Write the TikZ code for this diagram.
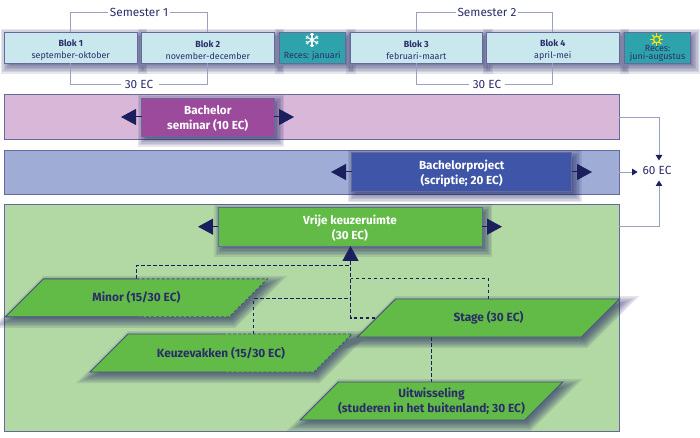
\documentclass[tikz,border=0pt]{standalone}
\usepackage{fontspec}
\setmainfont{Fira Sans}
\usetikzlibrary{arrows.meta,calc}
\definecolor{navy}{HTML}{1B1F5E}
\definecolor{edgecol}{HTML}{666A9A}
\definecolor{paraedge}{HTML}{4A5080}
\definecolor{linecol}{HTML}{9C9EC4}
\definecolor{txtnavy}{HTML}{2A2D6A}
\definecolor{ice}{HTML}{C8E8EE}
\definecolor{teal2}{HTML}{2FA3AB}
\definecolor{pinkband}{HTML}{D8B7D8}
\definecolor{seminar}{HTML}{9B4A9C}
\definecolor{blueband}{HTML}{9FADD6}
\definecolor{projcol}{HTML}{3F55A7}
\definecolor{greenband}{HTML}{B2D9A3}
\definecolor{greenbox}{HTML}{62BB46}
\newcommand{\dropB}{\rule{0pt}{12.5pt}}
\newcommand{\dropC}{\rule{0pt}{12pt}}
\pgfdeclarelayer{bandlayer}
\pgfdeclarelayer{shadowlayer}
\pgfsetlayers{bandlayer,shadowlayer,main}
\tikzset{
  softfill/.style={fill=navy,opacity=.11},
  base/.style={draw=edgecol,line width=.9pt,inner sep=0pt,outer sep=0pt,align=center},
  blok/.style={base,fill=ice,minimum height=31,text=txtnavy,font=\fontsize{8.9}{12}\selectfont},
  recesbox/.style={base,fill=teal2,minimum height=31,minimum width=66.5,text=txtnavy,font=\fontsize{8.9}{8.2}\selectfont},
  band/.style={base,minimum width=614.5},
  bigbox/.style={base,text=white,font=\fontsize{11.7}{14.8}\selectfont\bfseries},
  para/.style={inner sep=0pt,outer sep=0pt,align=center,text=txtnavy,font=\fontsize{11.9}{14.8}\selectfont\bfseries,minimum height=38},
  label/.style={inner sep=0pt,outer sep=0pt,font=\fontsize{11.8}{13}\selectfont,text=txtnavy},
  bracket/.style={draw=linecol,line width=.8pt},
  flow/.style={draw=linecol,line width=.9pt,-{Triangle[length=5.5pt,width=6.5pt,color=navy]}},
  bigarrow/.style={draw=navy,line width=1pt,-{Triangle[length=15pt,width=16pt,color=navy]}},
  dashlink/.style={draw=navy,line width=1.1pt,dash pattern=on 3.5pt off 2.5pt},
  edgedash/.style={draw=paraedge,line width=.9pt,dash pattern=on 3pt off 2pt},
  edgesolid/.style={draw=paraedge,line width=.9pt},
}
\newcommand{\slantpath}[1]{(#1.south west) -- ($(#1.north west)+(38,0)$) -- (#1.north east) -- ($(#1.south east)-(38,0)$) -- cycle}
\newcommand{\shadowbox}[1]{\begin{pgfonlayer}{shadowlayer}\foreach \gr in {7,5.5,4,2.5,1,-0.5,-2}{\path[softfill] ($(#1.south west)+(3-\gr,4+\gr)$) rectangle ($(#1.north east)+(3+\gr,4-\gr)$);}\end{pgfonlayer}}
\newcommand{\shadowpara}[1]{\begin{pgfonlayer}{shadowlayer}\foreach \gr in {7,5.5,4,2.5,1,-0.5,-2}{\path[softfill] ($(#1.south west)+(3-2.41*\gr,4+\gr)$) -- ($(#1.north west)+(41-0.41*\gr,4-\gr)$) -- ($(#1.north east)+(3+2.41*\gr,4-\gr)$) -- ($(#1.south east)+(-35+0.41*\gr,4+\gr)$) -- cycle;}\end{pgfonlayer}}
\begin{document}
\begin{tikzpicture}[x=1pt,y=-1pt]
\useasboundingbox (0,0) rectangle (700,438);
% bands
\begin{pgfonlayer}{bandlayer}
\node[band,fill=pinkband,minimum height=45] (pink) at (311.75,117) {};
\node[band,fill=blueband,minimum height=44] (blue) at (311.75,172) {};
\node[band,fill=greenband,minimum height=226.5] (green) at (311.75,317.75) {};
\end{pgfonlayer}
% top row
\node[blok,minimum width=132.5] (b1) at (70.75,47.5) {\dropB\textbf{Blok 1}\\september-oktober};
\node[blok,minimum width=132.5] (b2) at (207.75,47.5) {\dropB\textbf{Blok 2}\\november-december};
\node[recesbox] (r1) at (312.25,47.5) {\rule{0pt}{14pt}\\[1pt]Reces: januari};
\node[blok,minimum width=132.5] (b3) at (416.25,47.5) {\dropB\textbf{Blok 3}\\februari-maart};
\node[blok,minimum width=132.5] (b4) at (552.75,47.5) {\dropB\textbf{Blok 4}\\april-mei};
\node[recesbox] (r2) at (657.5,47.5) {\rule{0pt}{9pt}\\Reces:\\juni-augustus};
\shadowbox{b1}\shadowbox{b2}\shadowbox{r1}\shadowbox{b3}\shadowbox{b4}\shadowbox{r2}
% snowflake
\begin{scope}[shift={(312,40)}]
  \foreach \a in {30,90,150,210,270,330}{
    \draw[white,line width=1.1pt] (0,0) -- (\a:7);
    \draw[white,line width=.8pt] (\a:4.5) -- ++(\a+50:2.4);
    \draw[white,line width=.8pt] (\a:4.5) -- ++(\a-50:2.4);
  }
\end{scope}
% sun
\begin{scope}[shift={(656.7,39.5)}]
  \foreach \a in {0,45,...,315}{\draw[yellow!90!orange,line width=1.3pt] (\a:3) -- (\a:6.5);}
  \draw[yellow!90!orange,line width=1.2pt,fill=teal2] (0,0) circle (3.2);
\end{scope}
% brackets
\node[label] (s1) at (139,12.5) {Semester 1};
\node[label] (e1) at (139,84.5) {30 EC};
\node[label] (s2) at (487,12.5) {Semester 2};
\node[label] (e2) at (487,84.5) {30 EC};
\draw[bracket] (b1.north) |- ([xshift=-2]s1.west);
\draw[bracket] (b2.north) |- ([xshift=2]s1.east);
\draw[bracket] (b1.south) |- ([xshift=-4]e1.west);
\draw[bracket] (b2.south) |- ([xshift=6]e1.east);
\draw[bracket] (b3.north) |- ([xshift=-2]s2.west);
\draw[bracket] (b4.north) |- ([xshift=2]s2.east);
\draw[bracket] (b3.south) |- ([xshift=-4]e2.west);
\draw[bracket] (b4.south) |- ([xshift=4]e2.east);
% 60 EC
\node[label,inner xsep=5pt,minimum height=20] (sixty) at (657,170.5) {60 EC};
\draw[flow] (pink.east) -| ($(sixty.north)+(2,0)$);
\draw[flow] (blue.east) -- (blue.east -| sixty.west);
% main boxes
\node[bigbox,fill=seminar,minimum width=132.5,minimum height=38] (sem) at (207.75,117) {\dropC Bachelor\\seminar (10 EC)};
\node[bigbox,fill=projcol,minimum width=220,minimum height=38.5] (proj) at (461.7,172) {\dropC Bachelorproject\\(scriptie; 20 EC)};
\node[bigbox,fill=greenbox,minimum width=264,minimum height=38.5] (vrij) at (350,226.7) {\dropC Vrije keuzeruimte\\(30 EC)};
\shadowbox{sem}\shadowbox{proj}\shadowbox{vrij}
\draw[flow] (vrij.east -| green.east) -| ($(sixty.south)+(2,0)$);
\coordinate (semL) at (121,117);
\coordinate (semR) at (294,117);
\coordinate (projL) at (331,172);
\coordinate (projR) at (592,172);
\coordinate (vrijL) at (198,226.7);
\coordinate (vrijR) at (502,226.7);
\draw[bigarrow] (sem.west) -- (semL);
\draw[bigarrow] (sem.east) -- (semR);
\draw[bigarrow] (proj.west) -- (projL);
\draw[bigarrow] (proj.east) -- (projR);
\draw[bigarrow] (vrij.west) -- (vrijL);
\draw[bigarrow] (vrij.east) -- (vrijR);
\coordinate (hubtop) at (350.5,261);
\draw[bigarrow] (hubtop) -- (hubtop |- vrij.south);
% parallelogram text holders
\node[para,minimum width=262] (minor) at (136.5,297.8) {};
\node[para,minimum width=262] (keuze) at (221,353) {};
\node[para,minimum width=262] (stage) at (488.5,318) {};
\node[para,minimum width=262.5] (uit) at (431.5,401) {};
\shadowpara{minor}
\shadowpara{keuze}
\shadowpara{stage}
\shadowpara{uit}
% connectors
\coordinate (hub) at (350.5,265.5);
\coordinate (keuzeup) at (253.5,334);
\coordinate (keuzehub) at (350.5,298.5);
\coordinate (stagehub) at (350.5,278.5);
\draw[dashlink] (minor.north) |- (hub);
\draw[dashlink] (hubtop) |- (stage.center);
\draw[dashlink] (keuzeup) |- (keuzehub);
\draw[dashlink] (stage.north) |- (stagehub);
\draw[dashlink] (stage.south -| uit.north) -- (uit.north);
% parallelograms
\path[fill=greenbox] \slantpath{minor};
\draw[edgesolid] (minor.north) -- ($(minor.north west)+(38,0)$) -- (minor.south west) -- ($(minor.south)+(4,0)$);
\draw[edgedash] (minor.north) -- (minor.north east) -- ($(minor.south east)-(38,0)$) -- ($(minor.south)+(4,0)$);
\path[fill=greenbox] \slantpath{keuze};
\draw[edgesolid] ($(keuze.north)+(2,0)$) -- ($(keuze.north west)+(38,0)$) -- (keuze.south west) -- ($(keuze.south)+(3,0)$);
\draw[edgedash] ($(keuze.north)+(2,0)$) -- (keuze.north east) -- ($(keuze.south east)-(38,0)$) -- ($(keuze.south)+(3,0)$);
\path[fill=greenbox,draw=paraedge,line width=.9pt] \slantpath{uit};
\path[fill=greenbox,draw=paraedge,line width=.9pt] \slantpath{stage};
\node[para,minimum width=262] (minorT) at (minor) {Minor (15/30 EC)};
\node[para,minimum width=262] (keuzeT) at (keuze) {Keuzevakken (15/30 EC)};
\node[para,minimum width=262] (stageT) at (stage) {Stage (30 EC)};
\node[para,minimum width=262.5] (uitT) at (uit) {Uitwisseling\\(studeren in het buitenland; 30 EC)};
\end{tikzpicture}
\end{document}
